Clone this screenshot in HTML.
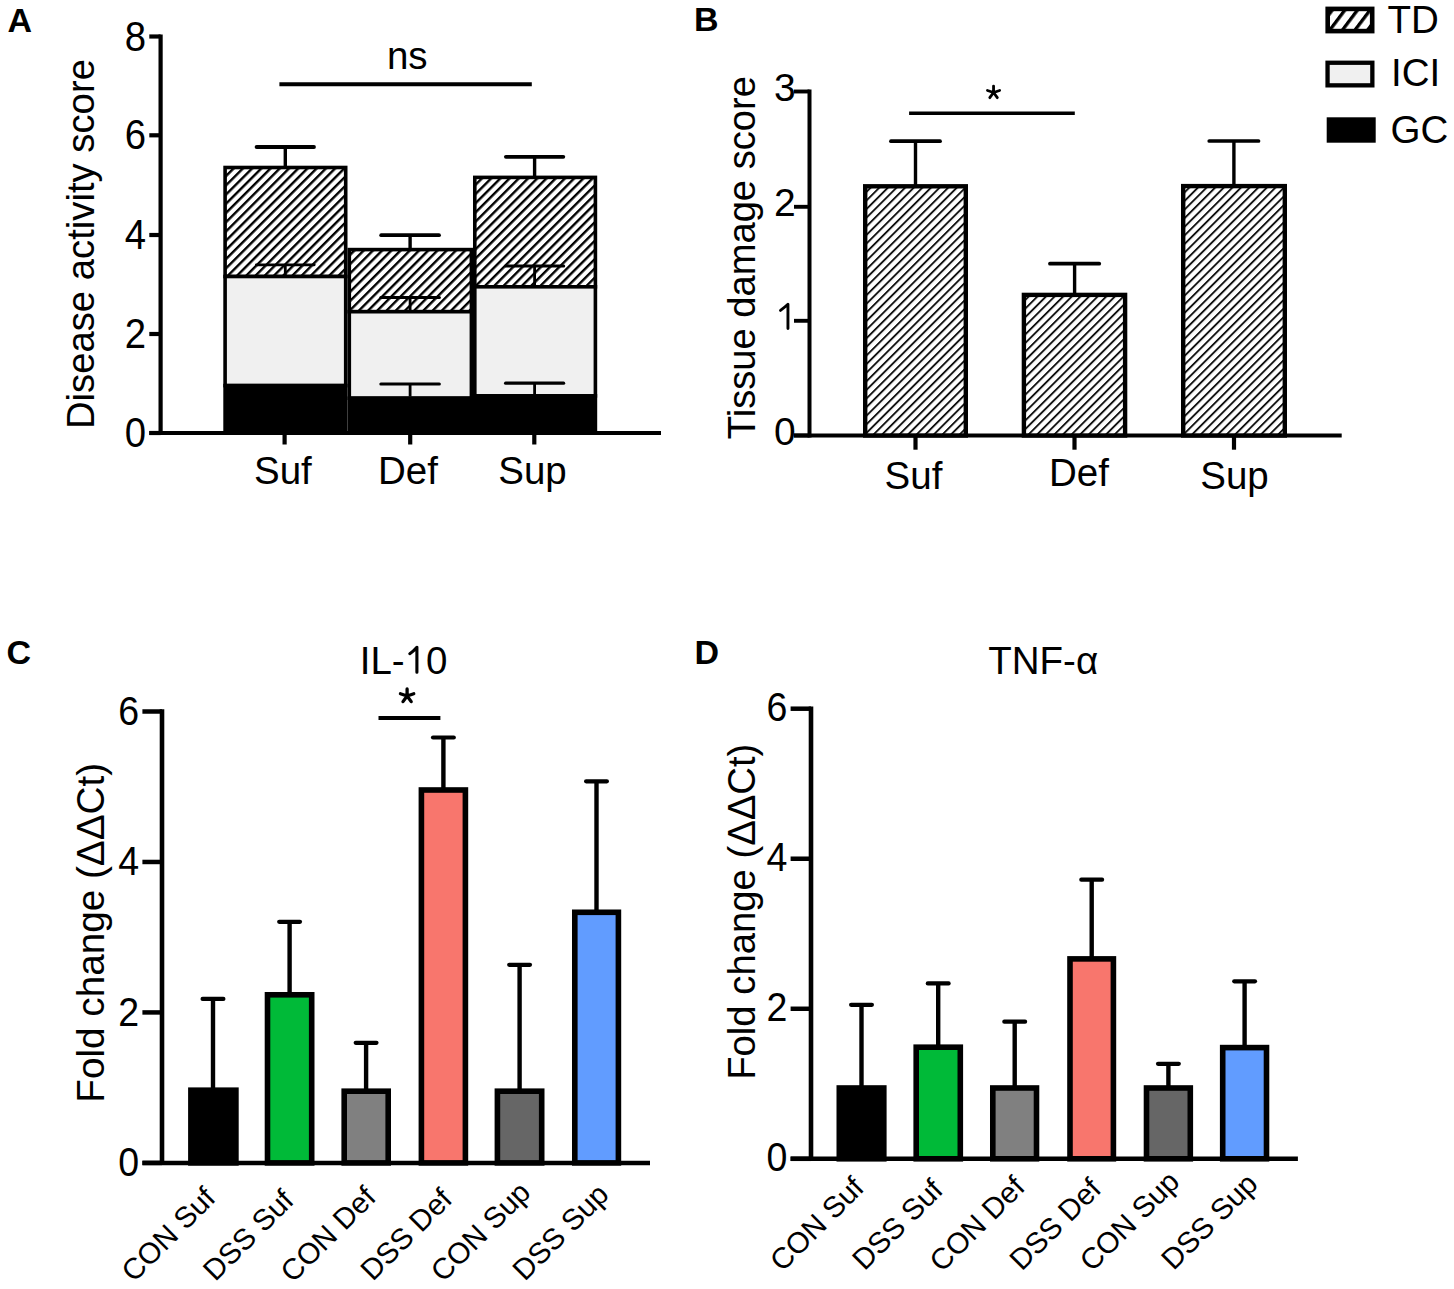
<!DOCTYPE html>
<html><head><meta charset="utf-8"><title>Figure</title>
<style>
html,body{margin:0;padding:0;background:#fff;}
svg{display:block;}
text{font-family:"Liberation Sans",sans-serif;fill:#000;}
</style></head>
<body>
<svg width="1454" height="1289" viewBox="0 0 1454 1289">

<defs>
 <pattern id="hatchA" patternUnits="userSpaceOnUse" width="6.521" height="20" patternTransform="rotate(45) translate(2.71,0)">
  <rect x="0" y="0" width="6.521" height="20" fill="#fff"/>
  <rect x="0" y="0" width="2.4" height="20" fill="#000"/>
 </pattern>
 <pattern id="hatchB" patternUnits="userSpaceOnUse" width="6.088" height="20" patternTransform="rotate(45) translate(4.71,0)">
  <rect x="0" y="0" width="6.088" height="20" fill="#fff"/>
  <rect x="0" y="0" width="1.9" height="20" fill="#111"/>
 </pattern>
 <pattern id="hatchL" patternUnits="userSpaceOnUse" width="10.06" height="30" patternTransform="rotate(37) translate(2.05,0)">
  <rect x="0" y="0" width="10.06" height="30" fill="#fff"/>
  <rect x="0" y="0" width="3.3" height="30" fill="#000"/>
 </pattern>
</defs>
<rect x="0" y="0" width="1454" height="1289" fill="#fff"/>
<text x="7.50" y="31.50" font-size="34" text-anchor="start" font-weight="bold">A</text>
<line x1="160.60" y1="34.50" x2="160.60" y2="435.00" stroke="#000" stroke-width="4.2" stroke-linecap="butt"/>
<line x1="149.30" y1="36.50" x2="160.60" y2="36.50" stroke="#000" stroke-width="4.2" stroke-linecap="butt"/>
<text transform="translate(146.00,50.50) scale(0.97,1.08)" font-size="39.5" text-anchor="end">8</text>
<line x1="149.30" y1="135.30" x2="160.60" y2="135.30" stroke="#000" stroke-width="4.2" stroke-linecap="butt"/>
<text transform="translate(146.00,149.30) scale(0.97,1.08)" font-size="39.5" text-anchor="end">6</text>
<line x1="149.30" y1="235.00" x2="160.60" y2="235.00" stroke="#000" stroke-width="4.2" stroke-linecap="butt"/>
<text transform="translate(146.00,249.00) scale(0.97,1.08)" font-size="39.5" text-anchor="end">4</text>
<line x1="149.30" y1="334.00" x2="160.60" y2="334.00" stroke="#000" stroke-width="4.2" stroke-linecap="butt"/>
<text transform="translate(146.00,348.00) scale(0.97,1.08)" font-size="39.5" text-anchor="end">2</text>
<line x1="149.30" y1="433.00" x2="160.60" y2="433.00" stroke="#000" stroke-width="4.2" stroke-linecap="butt"/>
<text transform="translate(146.00,447.00) scale(0.97,1.08)" font-size="39.5" text-anchor="end">0</text>
<line x1="149.30" y1="433.00" x2="661.00" y2="433.00" stroke="#000" stroke-width="4.2" stroke-linecap="butt"/>
<line x1="284.60" y1="433.00" x2="284.60" y2="444.50" stroke="#000" stroke-width="4.2" stroke-linecap="butt"/>
<line x1="410.20" y1="433.00" x2="410.20" y2="444.50" stroke="#000" stroke-width="4.2" stroke-linecap="butt"/>
<line x1="534.30" y1="433.00" x2="534.30" y2="444.50" stroke="#000" stroke-width="4.2" stroke-linecap="butt"/>
<text transform="translate(94.00,429.10) rotate(-90)" font-size="38.27" text-anchor="start">Disease activity score</text>
<rect x="225.10" y="167.50" width="120.60" height="109.00" fill="url(#hatchA)" stroke="#000" stroke-width="3.6"/>
<rect x="225.10" y="276.50" width="120.60" height="109.10" fill="#f0f0f0" stroke="#000" stroke-width="3.6"/>
<rect x="225.10" y="385.60" width="120.60" height="47.40" fill="#000" stroke="#000" stroke-width="3.6"/>
<rect x="349.30" y="249.60" width="122.10" height="62.10" fill="url(#hatchA)" stroke="#000" stroke-width="3.6"/>
<rect x="349.30" y="311.70" width="122.10" height="86.50" fill="#f0f0f0" stroke="#000" stroke-width="3.6"/>
<rect x="349.30" y="398.20" width="122.10" height="34.80" fill="#000" stroke="#000" stroke-width="3.6"/>
<rect x="474.80" y="177.40" width="120.60" height="109.40" fill="url(#hatchA)" stroke="#000" stroke-width="3.6"/>
<rect x="474.80" y="286.80" width="120.60" height="109.10" fill="#f0f0f0" stroke="#000" stroke-width="3.6"/>
<rect x="474.80" y="395.90" width="120.60" height="37.10" fill="#000" stroke="#000" stroke-width="3.6"/>
<line x1="285.30" y1="167.50" x2="285.30" y2="147.00" stroke="#000" stroke-width="3.4" stroke-linecap="butt"/>
<line x1="256.60" y1="147.00" x2="314.00" y2="147.00" stroke="#000" stroke-width="3.8" stroke-linecap="round"/>
<line x1="285.30" y1="276.50" x2="285.30" y2="264.80" stroke="#000" stroke-width="2.8" stroke-linecap="butt"/>
<line x1="256.40" y1="264.80" x2="314.20" y2="264.80" stroke="#000" stroke-width="2.8" stroke-linecap="round"/>
<line x1="410.10" y1="249.60" x2="410.10" y2="235.20" stroke="#000" stroke-width="3.4" stroke-linecap="butt"/>
<line x1="381.20" y1="235.20" x2="439.00" y2="235.20" stroke="#000" stroke-width="3.8" stroke-linecap="round"/>
<line x1="410.10" y1="311.70" x2="410.10" y2="297.40" stroke="#000" stroke-width="2.8" stroke-linecap="butt"/>
<line x1="380.80" y1="297.40" x2="439.40" y2="297.40" stroke="#000" stroke-width="3.0" stroke-linecap="round"/>
<line x1="410.10" y1="396.60" x2="410.10" y2="384.00" stroke="#000" stroke-width="2.8" stroke-linecap="butt"/>
<line x1="380.90" y1="384.00" x2="439.30" y2="384.00" stroke="#000" stroke-width="3.2" stroke-linecap="round"/>
<line x1="534.60" y1="177.40" x2="534.60" y2="156.80" stroke="#000" stroke-width="3.4" stroke-linecap="butt"/>
<line x1="505.90" y1="156.80" x2="563.30" y2="156.80" stroke="#000" stroke-width="3.8" stroke-linecap="round"/>
<line x1="534.60" y1="286.80" x2="534.60" y2="266.00" stroke="#000" stroke-width="2.8" stroke-linecap="butt"/>
<line x1="505.50" y1="266.00" x2="563.70" y2="266.00" stroke="#000" stroke-width="3.0" stroke-linecap="round"/>
<line x1="534.60" y1="394.20" x2="534.60" y2="383.20" stroke="#000" stroke-width="2.8" stroke-linecap="butt"/>
<line x1="505.60" y1="383.20" x2="563.60" y2="383.20" stroke="#000" stroke-width="3.2" stroke-linecap="round"/>
<line x1="279.40" y1="84.30" x2="531.80" y2="84.30" stroke="#000" stroke-width="4.0" stroke-linecap="butt"/>
<text x="407.30" y="69.30" font-size="38.5" text-anchor="middle" font-weight="normal">ns</text>
<text x="282.90" y="484.20" font-size="38.5" text-anchor="middle" font-weight="normal">Suf</text>
<text x="408.00" y="484.20" font-size="38.5" text-anchor="middle" font-weight="normal">Def</text>
<text x="532.50" y="484.20" font-size="38.5" text-anchor="middle" font-weight="normal">Sup</text>
<text x="693.90" y="31.00" font-size="34" text-anchor="start" font-weight="bold">B</text>
<line x1="809.50" y1="89.50" x2="809.50" y2="437.50" stroke="#000" stroke-width="4.0" stroke-linecap="butt"/>
<line x1="794.00" y1="91.50" x2="809.50" y2="91.50" stroke="#000" stroke-width="3.9" stroke-linecap="butt"/>
<text x="795.60" y="101.40" font-size="39.0" text-anchor="end" font-weight="normal">3</text>
<line x1="794.00" y1="206.80" x2="809.50" y2="206.80" stroke="#000" stroke-width="3.9" stroke-linecap="butt"/>
<text x="795.60" y="215.60" font-size="39.0" text-anchor="end" font-weight="normal">2</text>
<line x1="794.00" y1="320.80" x2="809.50" y2="320.80" stroke="#000" stroke-width="3.9" stroke-linecap="butt"/>
<line x1="794.00" y1="435.50" x2="809.50" y2="435.50" stroke="#000" stroke-width="3.9" stroke-linecap="butt"/>
<text x="795.60" y="445.00" font-size="39.0" text-anchor="end" font-weight="normal">0</text>
<line x1="794.00" y1="435.50" x2="1341.70" y2="435.50" stroke="#000" stroke-width="4.2" stroke-linecap="butt"/>
<line x1="915.50" y1="435.50" x2="915.50" y2="449.70" stroke="#000" stroke-width="4.2" stroke-linecap="butt"/>
<line x1="1074.50" y1="435.50" x2="1074.50" y2="449.70" stroke="#000" stroke-width="4.2" stroke-linecap="butt"/>
<line x1="1234.00" y1="435.50" x2="1234.00" y2="449.70" stroke="#000" stroke-width="4.2" stroke-linecap="butt"/>
<text transform="translate(755.00,439.20) rotate(-90)" font-size="38.14" text-anchor="start">Tissue damage score</text>
<path d="M780.5,310.4 Q784.5,307.5 787.95,304.3 L787.95,328.5" stroke="#000" stroke-width="2.9" fill="none" stroke-linecap="round" stroke-linejoin="round"/>
<rect x="865.20" y="186.30" width="100.60" height="249.20" fill="url(#hatchB)" stroke="#000" stroke-width="4.4"/>
<rect x="1023.90" y="294.90" width="101.20" height="140.60" fill="url(#hatchB)" stroke="#000" stroke-width="4.4"/>
<rect x="1183.20" y="186.10" width="101.60" height="249.40" fill="url(#hatchB)" stroke="#000" stroke-width="4.4"/>
<line x1="915.50" y1="186.30" x2="915.50" y2="141.20" stroke="#000" stroke-width="3.4" stroke-linecap="butt"/>
<line x1="890.95" y1="141.20" x2="940.05" y2="141.20" stroke="#000" stroke-width="3.7" stroke-linecap="round"/>
<line x1="1074.60" y1="294.90" x2="1074.60" y2="263.70" stroke="#000" stroke-width="3.4" stroke-linecap="butt"/>
<line x1="1049.95" y1="263.70" x2="1099.25" y2="263.70" stroke="#000" stroke-width="3.7" stroke-linecap="round"/>
<line x1="1233.90" y1="186.10" x2="1233.90" y2="141.00" stroke="#000" stroke-width="3.4" stroke-linecap="butt"/>
<line x1="1209.25" y1="141.00" x2="1258.55" y2="141.00" stroke="#000" stroke-width="3.7" stroke-linecap="round"/>
<line x1="909.10" y1="113.30" x2="1074.80" y2="113.30" stroke="#000" stroke-width="3.5" stroke-linecap="butt"/>
<path d="M993.55,92.50L993.55,86.10M993.55,92.50L999.64,90.52M993.55,92.50L997.31,97.68M993.55,92.50L989.79,97.68M993.55,92.50L987.46,90.52" stroke="#000" stroke-width="2.8" stroke-linecap="round" fill="none"/>
<text x="913.50" y="488.50" font-size="38.5" text-anchor="middle" font-weight="normal">Suf</text>
<text x="1079.00" y="486.10" font-size="38.5" text-anchor="middle" font-weight="normal">Def</text>
<text x="1234.50" y="489.20" font-size="38.5" text-anchor="middle" font-weight="normal">Sup</text>
<rect x="1327.70" y="8.90" width="44.50" height="22.20" fill="url(#hatchL)" stroke="#000" stroke-width="4.6"/>
<rect x="1327.55" y="62.75" width="44.80" height="22.60" fill="#f0f0f0" stroke="#000" stroke-width="4.3"/>
<rect x="1326.70" y="117.30" width="49.00" height="25.40" fill="#000"/>
<text x="1387.50" y="32.80" font-size="38.5" text-anchor="start" font-weight="normal">TD</text>
<text x="1391.00" y="86.20" font-size="38.5" text-anchor="start" font-weight="normal">ICI</text>
<text x="1390.50" y="142.50" font-size="38.5" text-anchor="start" font-weight="normal">GC</text>
<text x="6.40" y="664.00" font-size="34" text-anchor="start" font-weight="bold">C</text>
<line x1="162.00" y1="709.30" x2="162.00" y2="1165.10" stroke="#000" stroke-width="4.6" stroke-linecap="butt"/>
<line x1="142.40" y1="711.50" x2="162.00" y2="711.50" stroke="#000" stroke-width="4.5" stroke-linecap="butt"/>
<text transform="translate(139.10,724.70) scale(0.95,1.04)" font-size="39.5" text-anchor="end">6</text>
<line x1="142.40" y1="861.97" x2="162.00" y2="861.97" stroke="#000" stroke-width="4.5" stroke-linecap="butt"/>
<text transform="translate(139.10,875.17) scale(0.95,1.04)" font-size="39.5" text-anchor="end">4</text>
<line x1="142.40" y1="1012.43" x2="162.00" y2="1012.43" stroke="#000" stroke-width="4.5" stroke-linecap="butt"/>
<text transform="translate(139.10,1025.63) scale(0.95,1.04)" font-size="39.5" text-anchor="end">2</text>
<line x1="142.40" y1="1162.90" x2="162.00" y2="1162.90" stroke="#000" stroke-width="4.5" stroke-linecap="butt"/>
<text transform="translate(139.10,1176.10) scale(0.95,1.04)" font-size="39.5" text-anchor="end">0</text>
<line x1="142.40" y1="1162.90" x2="650.00" y2="1162.90" stroke="#000" stroke-width="4.5" stroke-linecap="butt"/>
<text transform="translate(104.30,1102.70) rotate(-90)" font-size="38.7" text-anchor="start">Fold change (ΔΔCt)</text>
<line x1="213.00" y1="1090.20" x2="213.00" y2="998.90" stroke="#000" stroke-width="4.4" stroke-linecap="butt"/>
<line x1="202.60" y1="998.90" x2="223.40" y2="998.90" stroke="#000" stroke-width="4.2" stroke-linecap="round"/>
<rect x="190.90" y="1090.20" width="45.00" height="72.70" fill="#000000" stroke="#000" stroke-width="5.6"/>
<line x1="289.60" y1="994.80" x2="289.60" y2="921.80" stroke="#000" stroke-width="4.4" stroke-linecap="butt"/>
<line x1="279.20" y1="921.80" x2="300.00" y2="921.80" stroke="#000" stroke-width="4.2" stroke-linecap="round"/>
<rect x="267.50" y="994.80" width="44.20" height="168.10" fill="#00BA38" stroke="#000" stroke-width="5.6"/>
<line x1="366.10" y1="1091.20" x2="366.10" y2="1042.80" stroke="#000" stroke-width="4.4" stroke-linecap="butt"/>
<line x1="355.70" y1="1042.80" x2="376.50" y2="1042.80" stroke="#000" stroke-width="4.2" stroke-linecap="round"/>
<rect x="344.20" y="1091.20" width="44.00" height="71.70" fill="#808080" stroke="#000" stroke-width="5.6"/>
<line x1="443.40" y1="790.00" x2="443.40" y2="737.50" stroke="#000" stroke-width="4.4" stroke-linecap="butt"/>
<line x1="433.00" y1="737.50" x2="453.80" y2="737.50" stroke="#000" stroke-width="4.2" stroke-linecap="round"/>
<rect x="421.40" y="790.00" width="44.00" height="372.90" fill="#F8766D" stroke="#000" stroke-width="5.6"/>
<line x1="519.60" y1="1091.20" x2="519.60" y2="964.80" stroke="#000" stroke-width="4.4" stroke-linecap="butt"/>
<line x1="509.20" y1="964.80" x2="530.00" y2="964.80" stroke="#000" stroke-width="4.2" stroke-linecap="round"/>
<rect x="497.40" y="1091.20" width="44.30" height="71.70" fill="#666666" stroke="#000" stroke-width="5.6"/>
<line x1="596.50" y1="912.30" x2="596.50" y2="781.30" stroke="#000" stroke-width="4.4" stroke-linecap="butt"/>
<line x1="586.10" y1="781.30" x2="606.90" y2="781.30" stroke="#000" stroke-width="4.2" stroke-linecap="round"/>
<rect x="574.80" y="912.30" width="43.60" height="250.60" fill="#619CFF" stroke="#000" stroke-width="5.6"/>
<text transform="translate(217.10,1199.80) rotate(-45)" font-size="29.5" text-anchor="end">CON Suf</text>
<text transform="translate(295.30,1202.20) rotate(-45)" font-size="29.5" text-anchor="end">DSS Suf</text>
<text transform="translate(377.45,1199.05) rotate(-45)" font-size="29.5" text-anchor="end">CON Def</text>
<text transform="translate(453.80,1200.95) rotate(-45)" font-size="29.5" text-anchor="end">DSS Def</text>
<text transform="translate(532.20,1194.05) rotate(-45)" font-size="29.5" text-anchor="end">CON Sup</text>
<text transform="translate(610.45,1196.25) rotate(-45)" font-size="29.5" text-anchor="end">DSS Sup</text>
<line x1="378.50" y1="718.00" x2="440.40" y2="718.00" stroke="#000" stroke-width="4.1" stroke-linecap="butt"/>
<text x="359.73" y="673.60" font-size="38.5" text-anchor="start" font-weight="normal">IL-</text>
<text x="426.06" y="673.60" font-size="38.5" text-anchor="start" font-weight="normal">0</text>
<path d="M409.8,653.7 Q413.5,651.3 416.9,647.3 L416.9,672.2" stroke="#000" stroke-width="3.1" fill="none" stroke-linecap="round" stroke-linejoin="round"/>
<path d="M407.10,695.95L407.10,688.95M407.10,695.95L413.76,693.79M407.10,695.95L411.21,701.61M407.10,695.95L402.99,701.61M407.10,695.95L400.44,693.79" stroke="#000" stroke-width="3.3" stroke-linecap="round" fill="none"/>
<text x="694.40" y="664.20" font-size="34" text-anchor="start" font-weight="bold">D</text>
<text x="1043.20" y="674.00" font-size="38.5" text-anchor="middle" font-weight="normal">TNF-α</text>
<line x1="811.00" y1="706.50" x2="811.00" y2="1161.00" stroke="#000" stroke-width="4.6" stroke-linecap="butt"/>
<line x1="790.60" y1="708.70" x2="811.00" y2="708.70" stroke="#000" stroke-width="4.5" stroke-linecap="butt"/>
<text transform="translate(787.30,720.90) scale(0.95,1.04)" font-size="39.5" text-anchor="end">6</text>
<line x1="790.60" y1="858.73" x2="811.00" y2="858.73" stroke="#000" stroke-width="4.5" stroke-linecap="butt"/>
<text transform="translate(787.30,870.93) scale(0.95,1.04)" font-size="39.5" text-anchor="end">4</text>
<line x1="790.60" y1="1008.77" x2="811.00" y2="1008.77" stroke="#000" stroke-width="4.5" stroke-linecap="butt"/>
<text transform="translate(787.30,1020.97) scale(0.95,1.04)" font-size="39.5" text-anchor="end">2</text>
<line x1="790.60" y1="1158.80" x2="811.00" y2="1158.80" stroke="#000" stroke-width="4.5" stroke-linecap="butt"/>
<text transform="translate(787.30,1171.00) scale(0.95,1.04)" font-size="39.5" text-anchor="end">0</text>
<line x1="790.60" y1="1158.80" x2="1297.90" y2="1158.80" stroke="#000" stroke-width="4.5" stroke-linecap="butt"/>
<text transform="translate(755.00,1079.80) rotate(-90)" font-size="38.27" text-anchor="start">Fold change (ΔΔCt)</text>
<line x1="861.50" y1="1088.00" x2="861.50" y2="1004.80" stroke="#000" stroke-width="4.4" stroke-linecap="butt"/>
<line x1="851.10" y1="1004.80" x2="871.90" y2="1004.80" stroke="#000" stroke-width="4.2" stroke-linecap="round"/>
<rect x="839.30" y="1088.00" width="44.50" height="70.80" fill="#000000" stroke="#000" stroke-width="5.6"/>
<line x1="938.20" y1="1047.20" x2="938.20" y2="983.40" stroke="#000" stroke-width="4.4" stroke-linecap="butt"/>
<line x1="927.80" y1="983.40" x2="948.60" y2="983.40" stroke="#000" stroke-width="4.2" stroke-linecap="round"/>
<rect x="916.20" y="1047.20" width="44.10" height="111.60" fill="#00BA38" stroke="#000" stroke-width="5.6"/>
<line x1="1014.70" y1="1088.00" x2="1014.70" y2="1021.70" stroke="#000" stroke-width="4.4" stroke-linecap="butt"/>
<line x1="1004.30" y1="1021.70" x2="1025.10" y2="1021.70" stroke="#000" stroke-width="4.2" stroke-linecap="round"/>
<rect x="992.80" y="1088.00" width="43.70" height="70.80" fill="#808080" stroke="#000" stroke-width="5.6"/>
<line x1="1091.70" y1="958.90" x2="1091.70" y2="879.70" stroke="#000" stroke-width="4.4" stroke-linecap="butt"/>
<line x1="1081.30" y1="879.70" x2="1102.10" y2="879.70" stroke="#000" stroke-width="4.2" stroke-linecap="round"/>
<rect x="1070.00" y="958.90" width="43.40" height="199.90" fill="#F8766D" stroke="#000" stroke-width="5.6"/>
<line x1="1168.40" y1="1088.00" x2="1168.40" y2="1063.80" stroke="#000" stroke-width="4.4" stroke-linecap="butt"/>
<line x1="1158.00" y1="1063.80" x2="1178.80" y2="1063.80" stroke="#000" stroke-width="4.2" stroke-linecap="round"/>
<rect x="1146.50" y="1088.00" width="43.80" height="70.80" fill="#666666" stroke="#000" stroke-width="5.6"/>
<line x1="1244.60" y1="1047.60" x2="1244.60" y2="981.30" stroke="#000" stroke-width="4.4" stroke-linecap="butt"/>
<line x1="1234.20" y1="981.30" x2="1255.00" y2="981.30" stroke="#000" stroke-width="4.2" stroke-linecap="round"/>
<rect x="1222.70" y="1047.60" width="43.80" height="111.20" fill="#619CFF" stroke="#000" stroke-width="5.6"/>
<text transform="translate(865.60,1189.40) rotate(-45)" font-size="29.5" text-anchor="end">CON Suf</text>
<text transform="translate(944.55,1191.60) rotate(-45)" font-size="29.5" text-anchor="end">DSS Suf</text>
<text transform="translate(1026.45,1188.75) rotate(-45)" font-size="29.5" text-anchor="end">CON Def</text>
<text transform="translate(1102.80,1190.60) rotate(-45)" font-size="29.5" text-anchor="end">DSS Def</text>
<text transform="translate(1181.15,1183.50) rotate(-45)" font-size="29.5" text-anchor="end">CON Sup</text>
<text transform="translate(1259.35,1185.55) rotate(-45)" font-size="29.5" text-anchor="end">DSS Sup</text>
</svg>
</body></html>
